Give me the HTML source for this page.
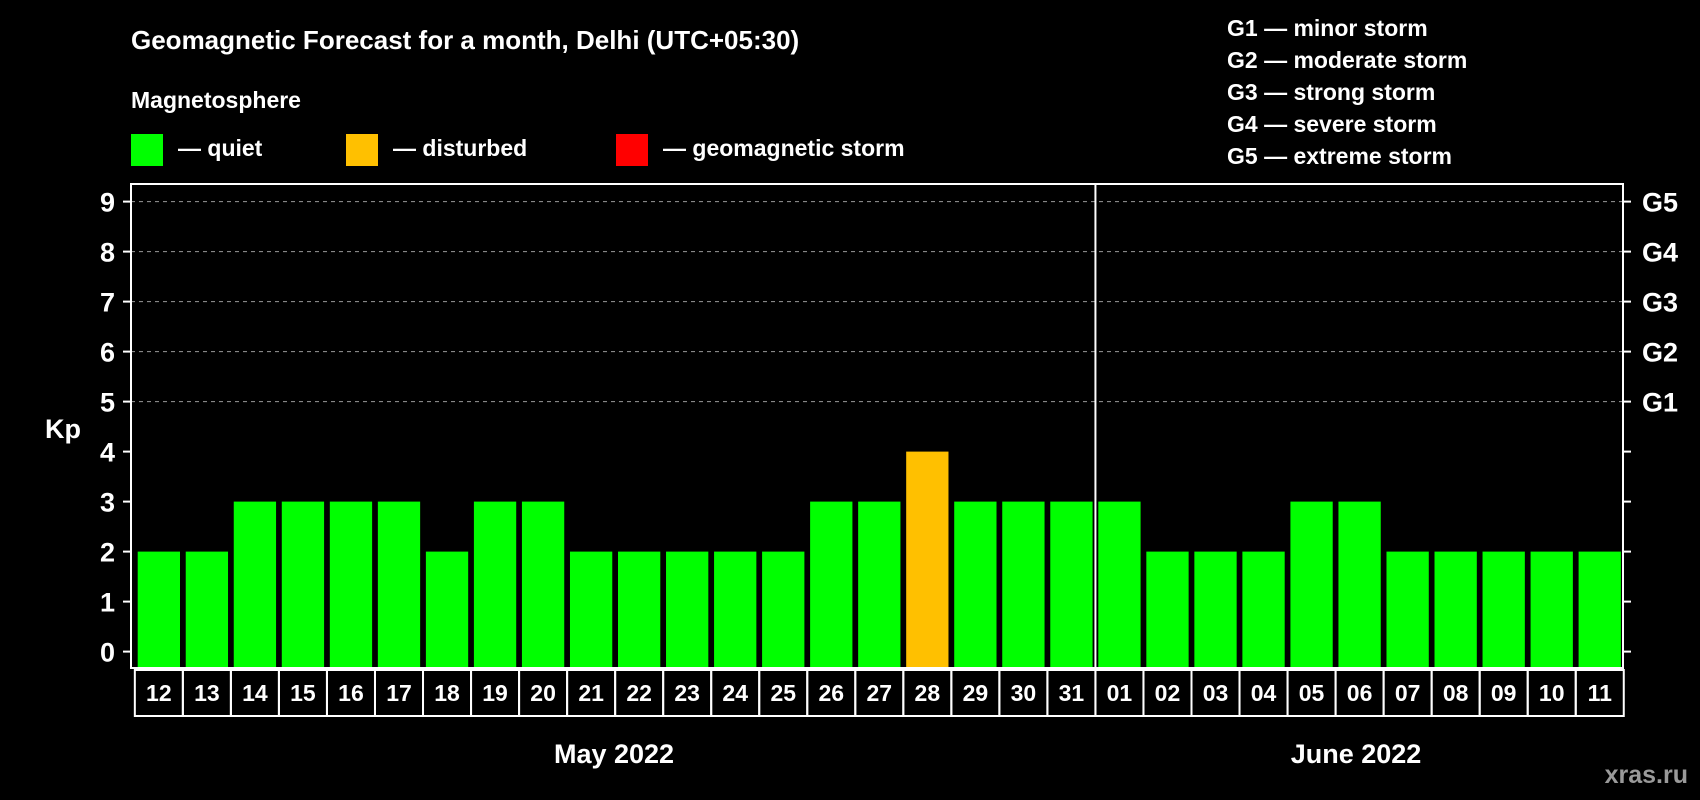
<!DOCTYPE html>
<html><head><meta charset="utf-8"><style>
html,body{margin:0;padding:0;background:#000;}
svg{display:block;font-family:"Liberation Sans",Arial,sans-serif;font-weight:bold;}
</style></head><body>
<svg id="chart" width="1700" height="800" viewBox="0 0 1700 800">
<rect x="0" y="0" width="1700" height="800" fill="#000"/>
<text x="131" y="49" fill="#fff" font-size="26">Geomagnetic Forecast for a month, Delhi (UTC+05:30)</text>
<text x="131" y="108" fill="#fff" font-size="23">Magnetosphere</text>
<g>
<rect x="131" y="134" width="32" height="32" fill="#00ff00"/>
<text x="178" y="156" fill="#fff" font-size="23">— quiet</text></g>
<g>
<rect x="346" y="134" width="32" height="32" fill="#ffc000"/>
<text x="393" y="156" fill="#fff" font-size="23">— disturbed</text></g>
<g>
<rect x="616" y="134" width="32" height="32" fill="#ff0000"/>
<text x="663" y="156" fill="#fff" font-size="23">— geomagnetic storm</text></g>
<g fill="#fff" font-size="23">
<text x="1227" y="36">G1 — minor storm</text>
<text x="1227" y="68">G2 — moderate storm</text>
<text x="1227" y="100">G3 — strong storm</text>
<text x="1227" y="132">G4 — severe storm</text>
<text x="1227" y="164">G5 — extreme storm</text>
</g>
<text x="63" y="438" fill="#fff" font-size="27" text-anchor="middle">Kp</text>
<g id="grid"></g>
<g id="bars"></g>
<g id="axes"></g>
<text x="614" y="763" fill="#fff" font-size="27" text-anchor="middle">May 2022</text>
<text x="1356" y="763" fill="#fff" font-size="27" text-anchor="middle">June 2022</text>
<text x="1688" y="783" fill="#9a9a9a" font-size="25" text-anchor="end">xras.ru</text>
</svg>
<script>
const days = ["12","13","14","15","16","17","18","19","20","21","22","23","24","25","26","27","28","29","30","31","01","02","03","04","05","06","07","08","09","10","11"];
const kpValues = [2,2,3,3,3,3,2,3,3,2,2,2,2,2,3,3,4,3,3,3,3,2,2,2,3,3,2,2,2,2,2];
const yTicks = [0,1,2,3,4,5,6,7,8,9];
const gLabels = ["G1","G2","G3","G4","G5"];
const monthSplitIndex = 20;

const NS = "http://www.w3.org/2000/svg";
const L = 131, R = 1623, T = 184, B = 668;
const x0 = 137.7, step = 48.03, bw = 42.3;
function yS(v){ return 651.6 - v * 50; }
function xS(i){ return x0 + i * step; }
function mk(tag, attrs, parent){ const e = document.createElementNS(NS, tag); for (const k in attrs) e.setAttribute(k, attrs[k]); parent.appendChild(e); return e; }
function color(v){ return v >= 5 ? "#ff0000" : (v >= 4 ? "#ffc000" : "#00ff00"); }

const grid = document.getElementById("grid"), bars = document.getElementById("bars"), axes = document.getElementById("axes");
yTicks.forEach(v => {
  const y = yS(v);
  if (v >= 5) {
    const g = mk("line", {x1:L, x2:R, y1:y, y2:y, stroke:"#999", "stroke-width":1, "stroke-dasharray":"4,4"}, grid);
    
    
  }
  const t1 = mk("line", {x1:L-8, x2:L, y1:y, y2:y, stroke:"#fff", "stroke-width":2}, axes);
  
  
  const t2 = mk("line", {x1:R, x2:R+8, y1:y, y2:y, stroke:"#fff", "stroke-width":2}, axes);
  
  
  const lab = mk("text", {x:115, y:y+10, fill:"#fff", "font-size":27, "text-anchor":"end"}, axes);
  lab.textContent = v;
  
  
});
gLabels.forEach((g, i) => {
  const lab = mk("text", {x:1642, y:yS(5+i)+10, fill:"#fff", "font-size":27}, axes);
  lab.textContent = g;
  
  
});
kpValues.forEach((v, i) => {
  const b = mk("rect", {x:xS(i), y:yS(v), width:bw, height:B - yS(v), fill:color(v)}, bars);
  
  
});
const frame = mk("rect", {x:L, y:T, width:R-L, height:B-T, fill:"none", stroke:"#fff", "stroke-width":2}, axes);


const sx = xS(monthSplitIndex) - (step - bw)/2;
const div = mk("line", {x1:sx, x2:sx, y1:T, y2:B, stroke:"#fff", "stroke-width":2}, axes);


const by1 = 670, by2 = 716;
days.forEach((d, i) => {
  const bx = xS(i) - (step - bw)/2;
  const c = mk("rect", {x:bx, y:by1, width:step, height:by2-by1, fill:"none", stroke:"#fff", "stroke-width":2}, axes);
  
  
  const t = mk("text", {x:xS(i)+bw/2, y:701, fill:"#fff", "font-size":23, "text-anchor":"middle"}, axes);
  t.textContent = d;
  
  
});
</script>
</body></html>
